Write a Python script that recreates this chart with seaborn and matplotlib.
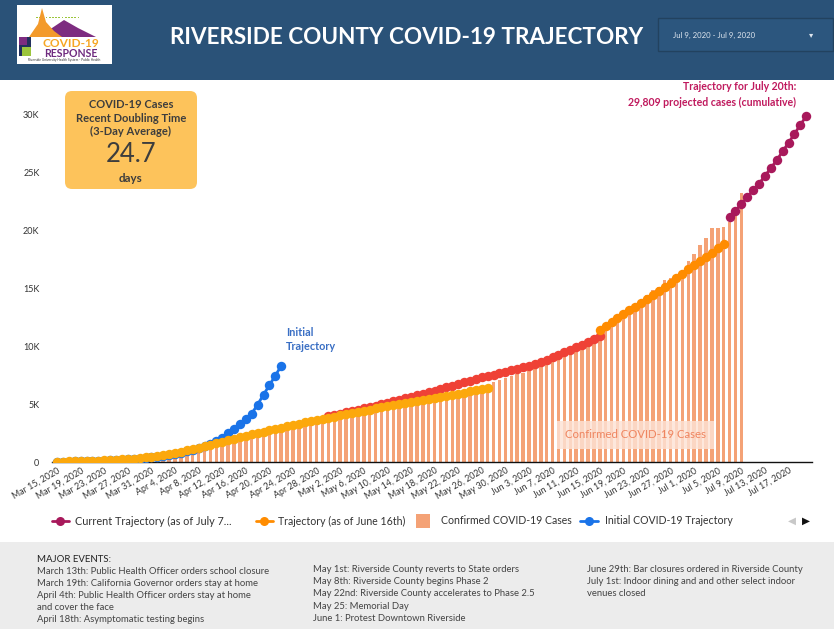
import numpy as np
import pandas as pd
import matplotlib
matplotlib.use("Agg")
import matplotlib.pyplot as plt
import seaborn as sns
from matplotlib.patches import FancyBboxPatch, Rectangle, Polygon
from matplotlib.lines import Line2D

# ---------------- data (thousands of cumulative cases) ----------------
start_date = "2020-03-15"
end_date = "2020-07-20"

# Confirmed cumulative cases, Mar 15 .. Jul 9
confirmed_k = [
    0.010, 0.012, 0.016, 0.020, 0.028, 0.038, 0.048, 0.060, 0.079, 0.093, 0.115, 0.145,
    0.175, 0.215, 0.250, 0.295, 0.340,
    0.40, 0.46, 0.54, 0.62, 0.69, 0.78, 0.88, 0.98, 1.08, 1.18, 1.30, 1.43, 1.55, 1.66,
    1.75, 1.90, 2.03, 2.18, 2.35, 2.46, 2.60, 2.75, 2.90, 3.05, 3.20, 3.32, 3.45, 3.56,
    3.72, 3.85,
    3.95, 4.05, 4.15, 4.25, 4.35, 4.45, 4.55, 4.62, 4.70, 4.78, 4.86, 4.94, 5.02, 5.10,
    5.18, 5.26, 5.35, 5.45, 5.55, 5.65, 5.75, 5.85, 5.95, 6.05, 6.15, 6.30,
    6.55, 6.90, 7.10, 7.25, 7.40, 7.55, 7.70, 7.90, 8.10, 8.30, 8.50, 8.70, 8.90, 9.10,
    9.30, 9.55, 9.80, 10.05, 10.40, 10.90,
    11.40, 12.00, 12.40, 12.80, 13.10, 13.50, 14.00, 14.40, 14.80, 15.10, 15.70, 15.90,
    16.10, 16.55,
    17.30, 17.90, 18.70, 19.35, 20.15, 20.15, 20.30, 20.70, 21.75, 23.20,
]
confirmed_start = 0

# Initial COVID-19 trajectory, Mar 15 .. Apr 22
initial_k = [
    0.02, 0.03, 0.04, 0.05, 0.06, 0.07, 0.08, 0.10, 0.12, 0.14, 0.16, 0.19, 0.22, 0.26,
    0.30, 0.35, 0.40, 0.46, 0.53, 0.61, 0.70, 0.80, 0.92, 1.05, 1.20, 1.38,
    1.58, 1.80, 2.10, 2.50, 2.87, 3.30, 3.72, 4.17, 4.95, 5.80, 6.62, 7.45, 8.28,
]
initial_start = 0

# Early trajectory, Mar 15 .. May 27
early_traj_k = [
    0.03, 0.04, 0.05, 0.06, 0.07, 0.08, 0.10, 0.12, 0.14, 0.17, 0.20, 0.23, 0.26, 0.30,
    0.35, 0.40, 0.46, 0.53, 0.61, 0.70, 0.80, 0.90, 1.01, 1.12, 1.24, 1.36, 1.48, 1.60,
    1.73, 1.86, 1.99, 2.12, 2.25, 2.38, 2.50, 2.62, 2.74, 2.86, 2.97, 3.08, 3.19, 3.30,
    3.41, 3.52,
    3.62, 3.72, 3.82, 3.92, 4.02, 4.12, 4.22, 4.32, 4.42, 4.52, 4.62, 4.72, 4.82, 4.91,
    5.00, 5.09, 5.18, 5.27, 5.36, 5.45, 5.54, 5.63, 5.72, 5.81, 5.90, 5.99, 6.08, 6.17,
    6.26, 6.35,
]
early_start = 0

# May trajectory, Apr 30 .. Jun 15
may_traj_k = [
    3.95, 4.05, 4.15, 4.27, 4.39, 4.51, 4.63, 4.75, 4.87, 4.99, 5.11, 5.23, 5.36, 5.49,
    5.62, 5.75, 5.88, 6.01, 6.15, 6.29, 6.43, 6.57, 6.71, 6.86, 7.01,
    7.16, 7.30, 7.42, 7.54, 7.66, 7.78, 7.90, 8.02, 8.15, 8.30, 8.46, 8.63, 8.82, 9.02,
    9.24, 9.46, 9.68, 9.90, 10.12, 10.36, 10.62, 10.88,
]
may_start = 46

# Trajectory (as of June 16th), Jun 15 .. Jul 6
june16_traj_k = [
    11.38, 11.72, 12.06, 12.45, 12.80, 13.10, 13.40, 13.74, 14.08, 14.40, 14.77, 15.11,
    15.46, 15.83, 16.21, 16.61, 16.98, 17.36, 17.70, 18.05, 18.45, 18.79,
]
june16_start = 92

# Current trajectory (as of July 7th), Jul 7 .. Jul 20
current_traj_k = [
    21.09, 21.67, 22.24, 22.84, 23.42, 23.99, 24.68, 25.34, 26.03, 26.78, 27.53, 28.28,
    29.08, 29.809,
]
current_start = 114

y_ticks = [0, 5000, 10000, 15000, 20000, 25000, 30000]
y_tick_labels = ["0", "5K", "10K", "15K", "20K", "25K", "30K"]

events_col1 = ["March 13th: Public Health Officer orders school closure",
               "March 19th: California Governor orders stay at home",
               "April 4th: Public Health Officer orders stay at home",
               "and cover the face",
               "April 18th: Asymptomatic testing begins"]
events_col2 = ["May 1st: Riverside County reverts to State orders",
               "May 8th: Riverside County begins Phase 2",
               "May 22nd: Riverside County accelerates to Phase 2.5",
               "May 25: Memorial Day",
               "June 1: Protest Downtown Riverside"]
events_col3 = ["June 29th: Bar closures ordered in Riverside County",
               "July 1st: Indoor dining and and other select indoor",
               "venues closed"]

# ---------------- styling ----------------
sns.set_style("white")
plt.rcParams["font.family"] = ["Lato", "DejaVu Sans"]

C_CURRENT = "#a8195b"
C_JUNE16 = "#ff8c00"
C_EARLY = "#fca80c"
C_MAY = "#ef4136"
C_INITIAL = "#1a73e8"
C_BAR = "#f4a276"
HEADER = "#2a5278"

dates = pd.date_range(start_date, end_date)
tick_idx = list(range(0, len(dates), 4))
tick_labels = [f"{dates[i]:%b} {dates[i].day}, {dates[i].year}" for i in tick_idx]


def frame(vals, start):
    return pd.DataFrame({"day": np.arange(start, start + len(vals)),
                         "cases": np.array(vals) * 1000.0})


W, H = 834, 629
fig = plt.figure(figsize=(W / 100, H / 100), dpi=100)
fig.patch.set_facecolor("white")

bg = fig.add_axes([0, 0, 1, 1], zorder=0)
bg.set_xlim(0, W)
bg.set_ylim(H, 0)
bg.axis("off")

y0_px, ytop_px, ymax = 462, 90.8, 32000
ax = fig.add_axes([52 / W, (H - y0_px) / H, 760 / W, (y0_px - ytop_px) / H], zorder=1)
ax.set_facecolor("none")

fg = fig.add_axes([0, 0, 1, 1], zorder=2)
fg.set_xlim(0, W)
fg.set_ylim(H, 0)
fg.axis("off")

# ---------------- chart ----------------
sns.barplot(data=frame(confirmed_k, confirmed_start), x="day", y="cases",
            native_scale=True, width=0.6, color=C_BAR, saturation=1,
            errorbar=None, linewidth=0, ax=ax, zorder=1)

line_kw = dict(x="day", y="cases", marker="o", markersize=6.8, markeredgewidth=0,
               linewidth=2.0, ax=ax, legend=False)
sns.lineplot(data=frame(may_traj_k, may_start), color=C_MAY, zorder=3, **line_kw)
sns.lineplot(data=frame(initial_k, initial_start), color=C_INITIAL, zorder=4, **line_kw)
sns.lineplot(data=frame(early_traj_k, early_start), color=C_EARLY, zorder=5, **line_kw)
sns.lineplot(data=frame(june16_traj_k, june16_start), color=C_JUNE16, zorder=6, **line_kw)
sns.lineplot(data=frame(current_traj_k, current_start), color=C_CURRENT, zorder=7, **line_kw)

ax.set_xlim(-0.85, 127.97)
ax.set_ylim(0, ymax)
ax.set_xticks(tick_idx)
ax.set_xticklabels(tick_labels, rotation=30, ha="right", rotation_mode="anchor",
                   fontsize=6.4, color="#333333")
ax.set_yticks(y_ticks)
ax.set_yticklabels(y_tick_labels, fontsize=6.5, color="#333333")
ax.tick_params(axis="both", length=0)
ax.tick_params(axis="y", pad=9)
ax.tick_params(axis="x", pad=3)
ax.set_xlabel("")
ax.set_ylabel("")
for s in ["top", "right", "left"]:
    ax.spines[s].set_visible(False)
ax.spines["bottom"].set_color("#111111")
ax.spines["bottom"].set_linewidth(1.0)
ax.grid(False)

# ---------------- header ----------------
bg.add_patch(Rectangle((0, 0), W, 80, facecolor=HEADER, edgecolor="none"))
bg.text(407, 37, "RIVERSIDE COUNTY COVID-19 TRAJECTORY", color="white",
        fontsize=16.2, fontweight="bold", ha="center", va="center")
# date selector
bg.add_patch(Rectangle((658, 18), 175, 33, facecolor="#2c567e", edgecolor="#22425f",
                       linewidth=1.0))
bg.text(673, 35, "Jul 9, 2020 - Jul 9, 2020", color="#dde5ee", fontsize=5.6,
        ha="left", va="center")
bg.text(811, 35, "▾", color="#dde5ee", fontsize=6, ha="center", va="center")

# logo
bg.add_patch(Rectangle((17, 5), 95, 59, facecolor="white", edgecolor="none"))
for xx in np.arange(36, 80, 3.2):
    bg.add_patch(Rectangle((xx, 16.5), 1.8, 1.6, facecolor="#9bc53d", edgecolor="none"))
bg.add_patch(Polygon([(34, 37), (52, 28), (64, 20), (78, 28), (96, 37)],
                     closed=True, facecolor="#7d2c80", edgecolor="none"))
bg.add_patch(Polygon([(29, 37), (38, 24), (42, 8), (46, 22), (54, 31), (62, 37)],
                     closed=True, facecolor="#f39a2b", edgecolor="none"))
bg.add_patch(Rectangle((19, 37), 12, 19, facecolor="#22305e", edgecolor="none"))
bg.add_patch(Rectangle((22, 47), 9, 9, facecolor="#9bc53d", edgecolor="none"))
bg.add_patch(Rectangle((19, 37), 8, 8, facecolor="#7d2c80", edgecolor="none"))
bg.text(71, 43.5, "COVID-19", color="#f6a623", fontsize=8.6, fontweight="bold",
        ha="center", va="center")
bg.text(71, 53.5, "RESPONSE", color="#6e2a7e", fontsize=7.6, fontweight="bold",
        ha="center", va="center")
bg.text(64, 60.5, "Riverside University Health System - Public Health", color="#333333",
        fontsize=2.3, ha="center", va="center")

# ---------------- annotations ----------------
fg.add_patch(FancyBboxPatch((65, 91), 132, 98, boxstyle="round,pad=0,rounding_size=7",
                            facecolor="#fdc35b", edgecolor="none"))
fg.text(131, 105, "COVID-19 Cases", color="#3d3d3d", fontsize=8, fontweight="bold",
        ha="center", va="center")
fg.text(131, 118, "Recent Doubling Time", color="#3d3d3d", fontsize=8, fontweight="bold",
        ha="center", va="center")
fg.text(131, 131, "(3-Day Average)", color="#3d3d3d", fontsize=8, fontweight="bold",
        ha="center", va="center")
fg.text(131, 155, "24.7", color="#3d3d3d", fontsize=18.5, ha="center", va="center")
fg.text(131, 178, "days", color="#3d3d3d", fontsize=8.3, fontweight="bold",
        ha="center", va="center")

fg.text(796, 87, "Trajectory for July 20th:", color="#c01a5e", fontsize=7.6,
        fontweight="bold", ha="right", va="center")
fg.text(796, 102, "29,809 projected cases (cumulative)", color="#c01a5e", fontsize=7.6,
        fontweight="bold", ha="right", va="center")

fg.text(286, 332, "Initial", color="#3a6fc4", fontsize=7.8, fontweight="bold",
        ha="left", va="center")
fg.text(286, 347, "Trajectory", color="#3a6fc4", fontsize=7.8, fontweight="bold",
        ha="left", va="center")

fg.add_patch(Rectangle((557, 421), 157, 28, facecolor="#fde2d5", alpha=0.82,
                       edgecolor="none"))
fg.text(635.5, 435, "Confirmed COVID-19 Cases", color="#ef8560", fontsize=8.2,
        ha="center", va="center")

# ---------------- legend ----------------
ly = 521
def leg_line(x0, x1, color):
    fg.add_line(Line2D([x0, x1], [ly, ly], color=color, linewidth=2.0))
    fg.add_line(Line2D([(x0 + x1) / 2], [ly], color=color, marker="o",
                       markersize=6.5, markeredgewidth=0))

leg_line(52, 69, C_CURRENT)
fg.text(75, ly, "Current Trajectory (as of July 7...", fontsize=7.8, color="#333333",
        ha="left", va="center")
leg_line(256, 273, C_JUNE16)
fg.text(278, ly, "Trajectory (as of June 16th)", fontsize=7.6, color="#333333",
        ha="left", va="center")
fg.add_patch(Rectangle((416, ly - 7), 14, 14, facecolor=C_BAR, edgecolor="none"))
fg.text(441, ly, "Confirmed COVID-19 Cases", fontsize=7.6, color="#333333",
        ha="left", va="center")
leg_line(580, 598, C_INITIAL)
fg.text(605, ly, "Initial COVID-19 Trajectory", fontsize=7.6, color="#333333",
        ha="left", va="center")
fg.text(792, ly, "◀", fontsize=7.5, color="#c8c8c8", ha="center", va="center")
fg.text(806, ly, "▶", fontsize=7.5, color="#111111", ha="center", va="center")

# ---------------- major events panel ----------------
bg.add_patch(Rectangle((0, 542), W, H - 542, facecolor="#ececec", edgecolor="none"))
fg.text(37, 559, "MAJOR EVENTS:", fontsize=6.9, color="#222222", ha="left", va="center")
for i, t in enumerate(events_col1):
    fg.text(37, 571.5 + i * 12, t, fontsize=6.85, color="#444444", ha="left", va="center")
for i, t in enumerate(events_col2):
    fg.text(313, 569.5 + i * 12.2, t, fontsize=6.85, color="#444444", ha="left", va="center")
for i, t in enumerate(events_col3):
    fg.text(587, 569.5 + i * 12.2, t, fontsize=6.85, color="#444444", ha="left", va="center")

fig.savefig("out.png", dpi=100, facecolor="white")
